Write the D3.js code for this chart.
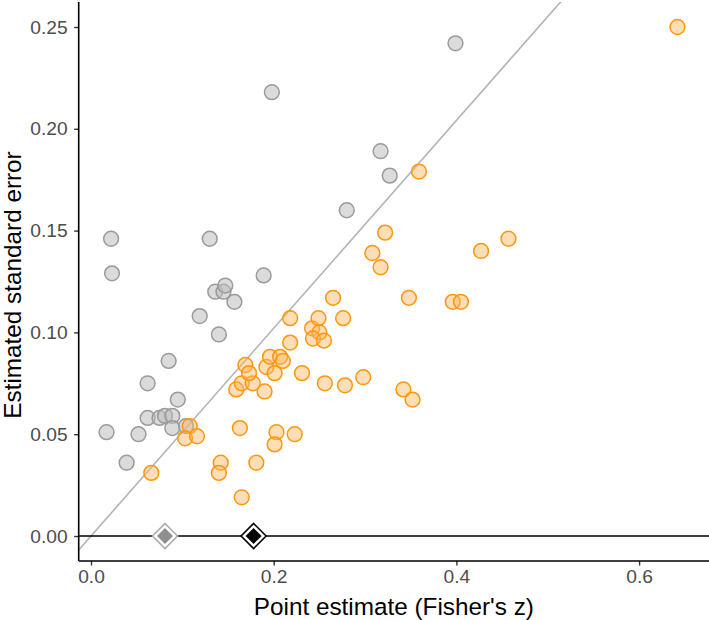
<!DOCTYPE html>
<html><head><meta charset="utf-8">
<script src="https://cdn.jsdelivr.net/npm/d3@7"></script>
<style>body{margin:0;background:#fff}svg{display:block}</style>
</head><body>
<script>
// Non-significant studies (grey): [Fisher's z, SE]
const greyZ  = [0.399,0.198,0.317,0.327,0.280,0.022,0.023,0.130,0.189,0.136,0.145,0.147,0.157,0.119,0.140,0.085,0.062,0.095,0.062,0.075,0.081,0.089,0.089,0.104,0.017,0.052,0.039];
const greySE = [0.242,0.218,0.189,0.177,0.160,0.146,0.129,0.146,0.128,0.120,0.120,0.123,0.115,0.108,0.099,0.086,0.075,0.067,0.058,0.058,0.059,0.059,0.053,0.054,0.051,0.050,0.036];
// Significant studies (orange)
const orangeZ  = [0.066,0.108,0.103,0.116,0.142,0.140,0.165,0.163,0.181,0.203,0.201,0.223,0.159,0.165,0.177,0.169,0.173,0.190,0.192,0.196,0.207,0.210,0.201,0.218,0.218,0.231,0.242,0.249,0.250,0.243,0.255,0.256,0.265,0.276,0.278,0.298,0.308,0.317,0.322,0.348,0.342,0.352,0.359,0.396,0.405,0.427,0.457,0.642];
const orangeSE = [0.031,0.054,0.048,0.049,0.036,0.031,0.019,0.053,0.036,0.051,0.045,0.050,0.072,0.075,0.075,0.084,0.080,0.071,0.083,0.088,0.088,0.086,0.080,0.095,0.107,0.080,0.102,0.107,0.100,0.097,0.096,0.075,0.117,0.107,0.074,0.078,0.139,0.132,0.149,0.117,0.072,0.067,0.179,0.115,0.115,0.140,0.146,0.250];
// Pooled estimates (diamonds at SE = 0)
const pooledZ = [0.081, 0.178];
const pooledKind = ["all", "significant"];
const xTicks = [0.0, 0.2, 0.4, 0.6];
const yTicks = [0.00, 0.05, 0.10, 0.15, 0.20, 0.25];
const critZ = 1.96;

const W = 709, H = 620;
const pL = 78.7, pR = 709, pT = 2, pB = 561;
const x = d3.scaleLinear().domain([(pL-91)/913.5, (pR-91)/913.5]).range([pL, pR]);
const y = d3.scaleLinear().domain([(536-pB)/2036, (536-pT)/2036]).range([pB, pT]);

const svg = d3.select("body").append("svg").attr("width", W).attr("height", H)
  .style("font-family", "'Liberation Sans', Arial, Helvetica, sans-serif");

svg.append("defs").append("clipPath").attr("id","clip")
  .append("rect").attr("x", pL).attr("y", pT).attr("width", pR-pL).attr("height", pB-pT);

const plot = svg.append("g").attr("clip-path","url(#clip)");

// significance line: SE = z / 1.96
const zLo = x.domain()[0], zHi = y.domain()[1]*critZ*1.05;
plot.append("line")
  .attr("x1", x(zLo)).attr("y1", y(zLo/critZ))
  .attr("x2", x(zHi)).attr("y2", y(zHi/critZ))
  .attr("stroke", "#b3b3b3").attr("stroke-width", 1.6);

// horizontal line at SE=0
plot.append("line")
  .attr("x1", pL).attr("x2", pR).attr("y1", y(0)).attr("y2", y(0))
  .attr("stroke", "#000").attr("stroke-width", 1.5);

const r = 7.4;
plot.append("g").selectAll("circle").data(greyZ.map((z,i)=>[z, greySE[i]])).join("circle")
  .attr("cx", d=>x(d[0])).attr("cy", d=>y(d[1])).attr("r", r)
  .attr("fill", "#bebebe").attr("fill-opacity", 0.55)
  .attr("stroke", "#9a9a9a").attr("stroke-width", 1.5);

plot.append("g").selectAll("circle").data(orangeZ.map((z,i)=>[z, orangeSE[i]])).join("circle")
  .attr("cx", d=>x(d[0])).attr("cy", d=>y(d[1])).attr("r", r)
  .attr("fill", "#fdb55e").attr("fill-opacity", 0.45)
  .attr("stroke", "#ff960d").attr("stroke-width", 1.5);

// diamonds
const dia = (s) => `M0,${-s}L${s},0L0,${s}L${-s},0Z`;
const dg = plot.append("g").selectAll("g").data(pooledZ.map((z,i)=>({z, k: pooledKind[i]}))).join("g")
  .attr("transform", d=>`translate(${x(d.z)},${y(0)})`);
dg.append("path").attr("d", dia(12.5))
  .attr("fill", "#fff")
  .attr("stroke", d=> d.k==="all" ? "#acacac" : "#000").attr("stroke-width", 1.6);
dg.append("path").attr("d", dia(8))
  .attr("fill", d=> d.k==="all" ? "#8f8f8f" : "#000");

// axes
const ax = svg.append("g").attr("transform", `translate(0,${pB})`)
  .call(d3.axisBottom(x).tickValues(xTicks).tickFormat(d3.format(".1f")).tickSize(4.5).tickPadding(4));
const ay = svg.append("g").attr("transform", `translate(${pL},0)`)
  .call(d3.axisLeft(y).tickValues(yTicks).tickFormat(d3.format(".2f")).tickSize(4.5).tickPadding(6.5));
[ax, ay].forEach(a => {
  a.select(".domain").remove();
  a.selectAll(".tick line").attr("stroke", "#333").attr("stroke-width", 1.4);
  a.selectAll(".tick text").attr("fill", "#4d4d4d").style("font-size", "19.2px");
});
svg.append("line").attr("x1", pL).attr("x2", pL).attr("y1", pT).attr("y2", pB)
  .attr("stroke", "#000").attr("stroke-width", 1.6);
svg.append("line").attr("x1", pL).attr("x2", pR).attr("y1", pB).attr("y2", pB)
  .attr("stroke", "#000").attr("stroke-width", 1.6);

svg.append("text").attr("x", (pL+pR)/2).attr("y", 615)
  .attr("text-anchor", "middle").style("font-size", "24.3px").attr("fill", "#000")
  .text("Point estimate (Fisher's z)");
svg.append("text").attr("transform", `translate(21,${285}) rotate(-90)`)
  .attr("text-anchor", "middle").style("font-size", "24.3px").attr("fill", "#000")
  .text("Estimated standard error");
</script>
</body></html>
